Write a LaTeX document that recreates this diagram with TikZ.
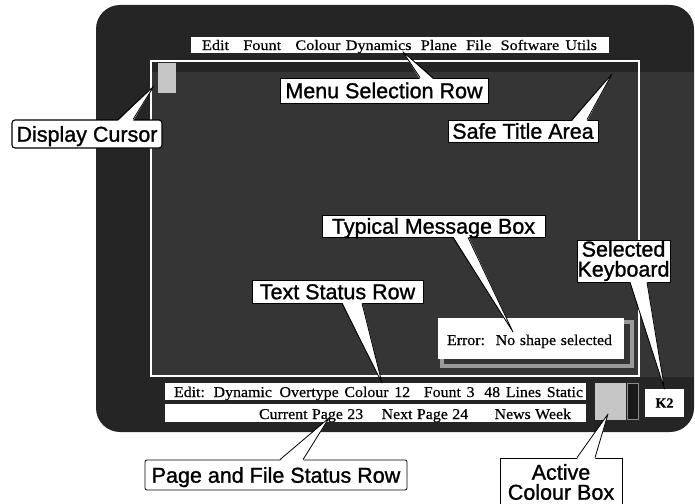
\documentclass[tikz,border=0pt]{standalone}
\usepackage{fontspec}
\setmainfont{Liberation Serif}
\newfontfamily\labelfont[FakeBold=1.2]{Liberation Sans}
\newfontfamily\screenfont[FakeStretch=1.06,FakeBold=0.4]{Liberation Serif}
\newfontfamily\menufont[FakeStretch=1.12,FakeBold=0.4]{Liberation Serif}
\newfontfamily\keyfont[FakeBold=0.5]{Liberation Serif Bold}
\usetikzlibrary{calc}

\definecolor{screenbg}{HTML}{252525}
\definecolor{screenin}{HTML}{353535}
\definecolor{cursorgray}{HTML}{C6C6C6}
\definecolor{shadowgray}{HTML}{9A9A9A}

% callout pointer leaving the top / bottom edge of a label node
\newcommand{\wedgeup}[4]{%
  \fill[white] ([xshift=#2pt,yshift=-1.5pt]#1.north) -- (#4) -- ([xshift=#3pt,yshift=-1.5pt]#1.north) -- cycle;
  \draw[wedgeline] ([xshift=#2pt]#1.north) -- (#4) -- ([xshift=#3pt]#1.north);}
\newcommand{\wedgedown}[4]{%
  \fill[white] ([xshift=#2pt,yshift=1.5pt]#1.south) -- (#4) -- ([xshift=#3pt,yshift=1.5pt]#1.south) -- cycle;
  \draw[wedgeline] ([xshift=#2pt]#1.south) -- (#4) -- ([xshift=#3pt]#1.south);}

\begin{document}
\begin{tikzpicture}[x=1pt,y=-1pt,
  callout/.style={draw=black, fill=white, line width=0.8pt, inner sep=0pt,
    font=\labelfont\fontsize{21.5}{20}\selectfont, align=center},
  oneline/.style={text height=15.4pt, text depth=0pt},
  wedgeline/.style={draw=black, line width=0.8pt, line join=round},
  bar/.style={fill=white, inner sep=0pt, outer sep=0pt},
  scrtext/.style={font=\screenfont\fontsize{15}{16}\selectfont, inner sep=0pt, anchor=base},
]
\useasboundingbox (0,0) rectangle (695,503);

% monitor screen
\fill[screenbg, rounded corners=24pt] (96,5) rectangle (694,432);
\fill[screenin] (151,72) rectangle (694,377);
\draw[white, line width=1.8pt] (151,61) rectangle (639,376);

% menu bar and status rows
\node[bar, minimum width=418pt, minimum height=16pt] (menubar) at (400,45) {};
\node[scrtext] (menutext) at (399.5,50) {\menufont\fontsize{14.5}{16}\selectfont\makebox[395pt][s]{Edit\hspace{8pt} Fount\hspace{8pt} Colour\hspace{-1pt} Dynamics\hspace{3pt} Plane\hspace{3pt} File\hspace{3pt} Software Utils}};

\node[bar, minimum width=421pt, minimum height=16.5pt] (row1) at (375.5,391.25) {};
\node[scrtext] (row1text) at (378.5,397) {\makebox[409pt][s]{Edit: Dynamic\hspace{2pt} Overtype Colour 12\hspace{8pt} Fount 3\hspace{4pt} 48 Lines Static}};

\node[bar, minimum width=421pt, minimum height=18pt] (row2) at (375.5,412.5) {};
\node[scrtext] (row2text) at (415,419) {\makebox[312pt][s]{Current Page 23\hspace{14pt} Next Page 24\hspace{22pt} News Week}};

% display cursor
\node[fill=cursorgray, inner sep=0pt, minimum width=18pt, minimum height=30pt] (cursor) at (167,78) {};

% message box with its shadow
\draw[shadowgray, line width=4pt] (442,322) rectangle (632,366);
\node[bar, minimum width=186pt, minimum height=41pt] (msgbox) at (531,338.5) {};
\node[scrtext] (msgtext) at (529.5,345) {\makebox[165pt][s]{Error:\hspace{4pt} No shape selected}};

% active colour and keyboard indicators
\node[fill=cursorgray, inner sep=0pt, minimum width=31pt, minimum height=36.5pt] (colourbox) at (610.5,401.25) {};
\node[fill=black!90, draw=black!45, line width=0.6pt, inner sep=0pt, minimum width=11pt, minimum height=36.5pt] (darkbar) at (632.5,401.25) {};
\node[bar, minimum width=39pt, minimum height=28pt, font=\keyfont\fontsize{14}{16}\selectfont] (kb) at (664.5,403) {K2};

% pointer tips
\coordinate (menutip) at (403,52);
\coordinate (safetip) at (612,74);
\coordinate (cursortip) at (154,86);
\coordinate (msgtip) at (513,332);
\coordinate (txttip) at (382,383);
\coordinate (pagetip) at (329,418);
\coordinate (colourtip) at (608,414);

% labels
\node[callout, oneline, minimum width=208pt, minimum height=25pt] (menulbl) at (384,90.5) {Menu Selection Row};
\wedgeup{menulbl}{36}{49}{menutip}

\node[callout, oneline, minimum width=150pt, minimum height=22pt] (safelbl) at (523,131) {Safe Title Area};
\wedgeup{safelbl}{49}{64}{safetip}

\node[callout, oneline, line width=1.1pt, rounded corners=3pt, minimum width=150pt, minimum height=28pt] (cursorlbl) at (87,134) {Display Cursor};
\wedgeup{cursorlbl}{31}{46}{cursortip}

\node[callout, oneline, minimum width=223pt, minimum height=22pt] (msglbl) at (433.5,226) {Typical Message Box};
\wedgedown{msglbl}{19.5}{34.5}{msgtip}

\node[callout, minimum width=93pt, minimum height=42pt] (kblbl) at (623.5,261) {Selected\\Keyboard};
\wedgedown{kblbl}{6.5}{23.5}{kb.north}

\node[callout, oneline, minimum width=171pt, minimum height=23pt] (txtlbl) at (337.5,291.5) {Text Status Row};
\wedgedown{txtlbl}{4.5}{24.5}{txttip}

\node[callout, oneline, rounded corners=2pt, minimum width=262pt, minimum height=30pt] (pagelbl) at (276,475) {Page and File Status Row};
\wedgeup{pagelbl}{4}{27}{pagetip}

\node[callout, minimum width=122pt, minimum height=48pt] (colourlbl) at (561,482) {Active\\Colour Box};
\wedgeup{colourlbl}{16}{34}{colourtip}
\end{tikzpicture}
\end{document}
